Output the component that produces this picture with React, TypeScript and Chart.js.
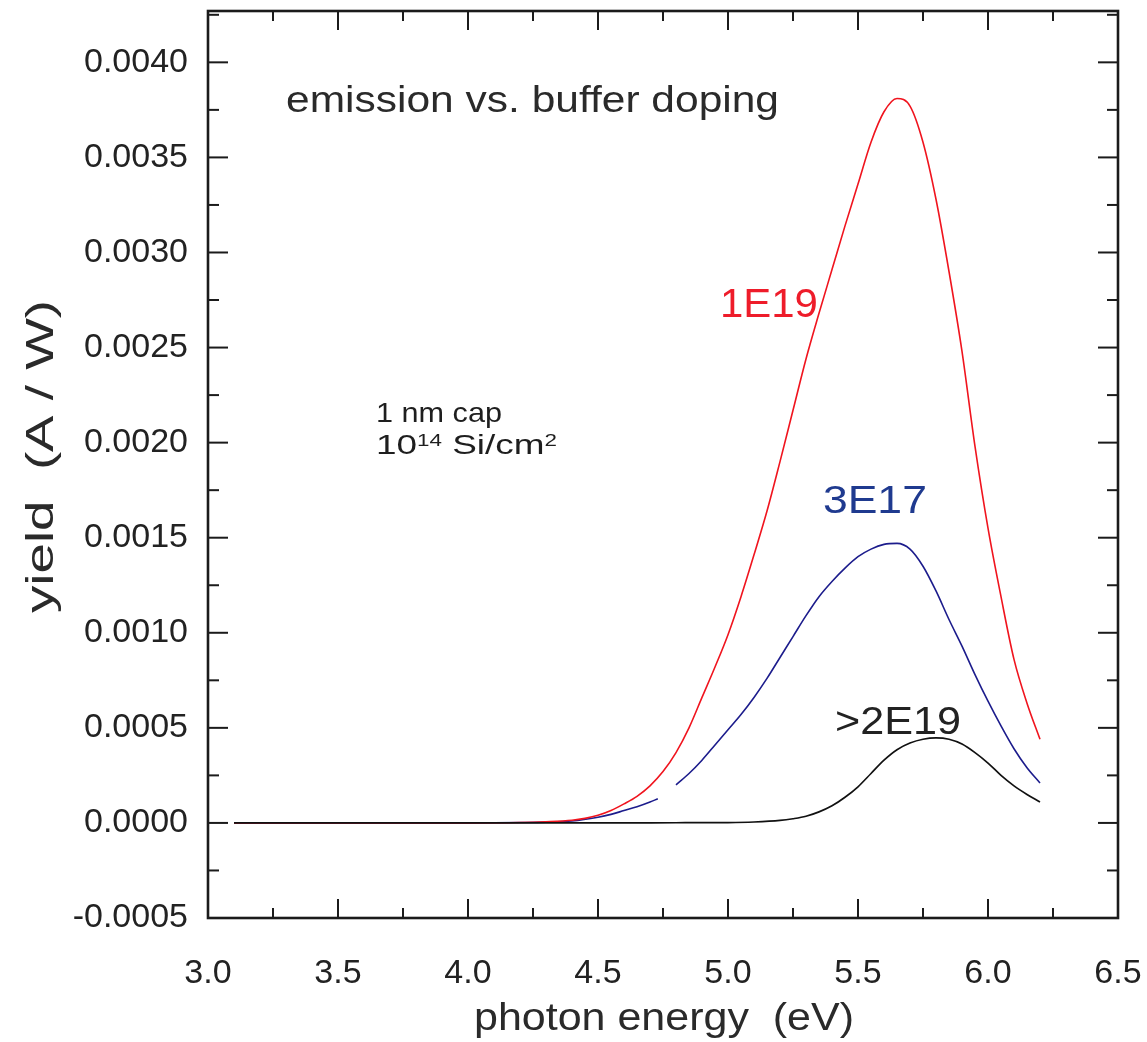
import React, { useEffect, useRef } from "react";
import { Chart, registerables } from "chart.js";

Chart.register(...registerables);

// Axis ranges and tick values
const X_MIN = 3.0;
const X_MAX = 6.5;
const Y_MIN = -0.0005;
const Y_MAX = 0.00427;
const X_TICKS = [3.0, 3.5, 4.0, 4.5, 5.0, 5.5, 6.0, 6.5];
const Y_TICKS = [-0.0005, 0.0, 0.0005, 0.001, 0.0015, 0.002, 0.0025, 0.003, 0.0035, 0.004];
const X_TICK_LABELS = ["3.0", "3.5", "4.0", "4.5", "5.0", "5.5", "6.0", "6.5"];
const Y_TICK_LABELS = ["-0.0005", "0.0000", "0.0005", "0.0010", "0.0015", "0.0020", "0.0025", "0.0030", "0.0035", "0.0040"];

// 1E19 buffer doping
const ENERGY_1E19 = [
  3.1, 3.5, 4.0, 4.2, 4.3, 4.4, 4.45, 4.5, 4.55, 4.6, 4.65, 4.7, 4.75, 4.8, 4.85, 4.9, 4.95,
  5.0, 5.05, 5.1, 5.15, 5.2, 5.25, 5.3, 5.35, 5.4, 5.45, 5.5, 5.55, 5.6, 5.65, 5.7, 5.75,
  5.8, 5.85, 5.9, 5.95, 6.0, 6.05, 6.1, 6.15, 6.2,
];
const YIELD_1E19 = [
  0, 0, 0, 0.000002, 0.000006, 0.000014, 0.000024, 0.00004, 0.000065, 0.0001, 0.00014, 0.000195,
  0.00027, 0.00037, 0.0005, 0.00066, 0.00082, 0.00099, 0.00119, 0.00141, 0.00164, 0.0019,
  0.00217, 0.00244, 0.00268, 0.00291, 0.00314, 0.00336, 0.00358, 0.00374, 0.00381, 0.00377,
  0.00358, 0.00328, 0.0029, 0.00248, 0.00198, 0.00155, 0.00119, 0.00086, 0.00063, 0.00044,
];

// 3E17 buffer doping (two scans, with a gap near 4.76 eV)
const ENERGY_3E17 = [
  3.1, 3.5, 4.0, 4.2, 4.3, 4.4, 4.5, 4.55, 4.6, 4.65, 4.7, 4.73, 4.765,
  4.8, 4.85, 4.9, 4.95, 5.0, 5.05, 5.1, 5.15, 5.2, 5.25, 5.3, 5.35, 5.4, 5.45, 5.5, 5.55,
  5.6, 5.65, 5.7, 5.75, 5.8, 5.85, 5.9, 5.95, 6.0, 6.05, 6.1, 6.15, 6.2,
];
const YIELD_3E17 = [
  0, 0, 0, 0.000002, 0.000004, 0.00001, 0.00003, 0.000045, 0.000065, 0.000085, 0.00011, 0.000127, null,
  0.0002, 0.00026, 0.00033, 0.00041, 0.00049, 0.00057, 0.00066, 0.00076, 0.00087, 0.00098,
  0.00109, 0.00119, 0.00127, 0.00134, 0.0014, 0.00144, 0.001465, 0.00147, 0.00144, 0.00135,
  0.00122, 0.00107, 0.00093, 0.00078, 0.00064, 0.00051, 0.00039, 0.00029, 0.00021,
];

// >2E19 buffer doping
const ENERGY_2E19 = [
  3.1, 3.5, 4.0, 4.5, 4.8, 5.0, 5.1, 5.2, 5.25, 5.3, 5.35, 5.4, 5.45, 5.5, 5.55, 5.6, 5.65,
  5.7, 5.75, 5.8, 5.85, 5.9, 5.95, 6.0, 6.05, 6.1, 6.15, 6.2,
];
const YIELD_2E19 = [
  0, 0, 0, 0, 0.000001, 0.000002, 0.000005, 0.000013, 0.000022, 0.000035, 0.000058, 0.00009,
  0.000135, 0.00019, 0.00026, 0.00033, 0.000385, 0.00042, 0.00044, 0.000447, 0.00044, 0.000415,
  0.00037, 0.000315, 0.00025, 0.000195, 0.00015, 0.00011,
];

const FONT = '"Liberation Sans", Arial, Helvetica, sans-serif';

const toPoints = (xs: number[], ys: (number | null)[]) => xs.map((x, i) => ({ x, y: ys[i] }));

// Draws a string stretched horizontally so it spans the given width
function stretchedText(
  ctx: CanvasRenderingContext2D,
  text: string,
  x: number,
  y: number,
  size: number,
  color: string,
  width: number,
  rotate = false
) {
  ctx.save();
  ctx.font = `${size}px ${FONT}`;
  ctx.fillStyle = color;
  ctx.textAlign = "left";
  ctx.textBaseline = "alphabetic";
  ctx.translate(x, y);
  if (rotate) ctx.rotate(-Math.PI / 2);
  const w = ctx.measureText(text).width;
  ctx.scale(width / w, 1);
  ctx.fillText(text, 0, 0);
  ctx.restore();
}

type Seg = { t: string; sup?: boolean };

function richText(
  ctx: CanvasRenderingContext2D,
  segs: Seg[],
  x: number,
  y: number,
  size: number,
  color: string,
  width: number
) {
  const supSize = Math.round(size * 0.62);
  const rise = size * 0.3;
  ctx.save();
  ctx.fillStyle = color;
  ctx.textAlign = "left";
  ctx.textBaseline = "alphabetic";
  let total = 0;
  for (const s of segs) {
    ctx.font = `${s.sup ? supSize : size}px ${FONT}`;
    total += ctx.measureText(s.t).width;
  }
  ctx.translate(x, y);
  ctx.scale(width / total, 1);
  let cx = 0;
  for (const s of segs) {
    ctx.font = `${s.sup ? supSize : size}px ${FONT}`;
    ctx.fillText(s.t, cx, s.sup ? -rise : 0);
    cx += ctx.measureText(s.t).width;
  }
  ctx.restore();
}

const TITLE_TEXT = "emission vs. buffer doping";
const CAP_TEXT = "1 nm cap";
const DOSE_SEGMENTS: Seg[] = [{ t: "10" }, { t: "14", sup: true }, { t: " Si/cm" }, { t: "2", sup: true }];
const X_TITLE = "photon energy  (eV)";
const Y_TITLE = "yield  (A / W)";

const framePlugin = {
  id: "frameAndText",
  afterDraw(chart: any) {
    const { ctx, chartArea: a, scales } = chart;
    const xs = scales.x;
    const ys = scales.y;
    ctx.save();
    ctx.strokeStyle = "#1b1b1b";
    ctx.lineCap = "butt";

    const seg = (x1: number, y1: number, x2: number, y2: number) => {
      ctx.beginPath();
      ctx.moveTo(x1, y1);
      ctx.lineTo(x2, y2);
      ctx.stroke();
    };

    const xMinor = X_TICKS.slice(0, -1).map((v, i) => (v + X_TICKS[i + 1]) / 2);
    const yMinor = Y_TICKS.map((v) => v + 0.00025).filter((v) => v < Y_MAX);

    ctx.lineWidth = 2;
    for (const v of X_TICKS) {
      const p = xs.getPixelForValue(v);
      seg(p, a.bottom, p, a.bottom - 19);
      seg(p, a.top, p, a.top + 19);
    }
    for (const v of xMinor) {
      const p = xs.getPixelForValue(v);
      seg(p, a.bottom, p, a.bottom - 10);
      seg(p, a.top, p, a.top + 10);
    }
    for (const v of Y_TICKS) {
      const p = ys.getPixelForValue(v);
      seg(a.left, p, a.left + 20, p);
      seg(a.right, p, a.right - 20, p);
    }
    for (const v of yMinor) {
      const p = ys.getPixelForValue(v);
      seg(a.left, p, a.left + 11, p);
      seg(a.right, p, a.right - 11, p);
    }

    ctx.lineWidth = 2.6;
    ctx.strokeRect(a.left, a.top, a.right - a.left, a.bottom - a.top);
    ctx.restore();

    const X = (v: number) => xs.getPixelForValue(v);
    const Y = (v: number) => ys.getPixelForValue(v);

    stretchedText(ctx, TITLE_TEXT, X(3.3), Y(0.00374), 37, "#2a2a2a", 493);
    stretchedText(ctx, CAP_TEXT, X(3.646), Y(0.00211), 28, "#1e1e1e", 126);
    richText(ctx, DOSE_SEGMENTS, X(3.646), Y(0.00194), 28, "#1e1e1e", 181);
    stretchedText(ctx, "1E19", X(4.969), Y(0.002662), 40, "#ee1c2a", 98);
    stretchedText(ctx, "3E17", X(5.365), Y(0.00163), 39, "#1f3a8f", 104);
    stretchedText(ctx, ">2E19", X(5.4115), Y(0.00047), 38, "#222222", 126);

    // axis titles
    stretchedText(ctx, X_TITLE, 474, 1030, 38, "#2a2a2a", 380);
    stretchedText(ctx, Y_TITLE, 53, 613, 39, "#2a2a2a", 313, true);
  },
};

const zeroPadding = (scale: any) => {
  scale.paddingLeft = 0;
  scale.paddingRight = 0;
  scale.paddingTop = 0;
  scale.paddingBottom = 0;
};

export default function App() {
  const canvasRef = useRef<HTMLCanvasElement | null>(null);

  useEffect(() => {
    const canvas = canvasRef.current;
    if (!canvas) return;

    const chart = new Chart(canvas, {
      type: "line",
      data: {
        datasets: [
          {
            label: ">2E19",
            data: toPoints(ENERGY_2E19, YIELD_2E19),
            borderColor: "#111111",
            borderWidth: 1.7,
            pointRadius: 0,
            cubicInterpolationMode: "monotone",
            fill: false,
          },
          {
            label: "1E19",
            data: toPoints(ENERGY_1E19, YIELD_1E19),
            borderColor: "#f0141e",
            borderWidth: 1.6,
            pointRadius: 0,
            cubicInterpolationMode: "monotone",
            fill: false,
          },
          {
            label: "3E17",
            data: toPoints(ENERGY_3E17, YIELD_3E17),
            borderColor: "#1c1c8c",
            borderWidth: 1.6,
            pointRadius: 0,
            cubicInterpolationMode: "monotone",
            spanGaps: false,
            fill: false,
          },
        ],
      },
      options: {
        responsive: false,
        animation: false,
        layout: { padding: { top: 11, right: 29, left: 0, bottom: 0 } },
        plugins: {
          legend: { display: false },
          tooltip: { enabled: false },
          title: { display: false },
        },
        scales: {
          x: {
            type: "linear",
            min: X_MIN,
            max: X_MAX,
            afterBuildTicks: (scale: any) => {
              scale.ticks = X_TICKS.map((value) => ({ value }));
            },
            afterFit: (scale: any) => {
              scale.height = 124;
              zeroPadding(scale);
            },
            grid: { display: false, drawTicks: false },
            border: { display: false },
            ticks: {
              padding: 35,
              maxRotation: 0,
              autoSkip: false,
              color: "#222222",
              font: { family: FONT, size: 34 },
              callback: (value: any) => {
                const i = X_TICKS.findIndex((t) => Math.abs(t - value) < 1e-9);
                return i >= 0 ? X_TICK_LABELS[i] : "";
              },
            },
          },
          y: {
            type: "linear",
            min: Y_MIN,
            max: Y_MAX,
            afterBuildTicks: (scale: any) => {
              scale.ticks = Y_TICKS.map((value) => ({ value }));
            },
            afterFit: (scale: any) => {
              scale.width = 208;
              zeroPadding(scale);
            },
            grid: { display: false, drawTicks: false },
            border: { display: false },
            ticks: {
              padding: 20,
              autoSkip: false,
              color: "#222222",
              font: { family: FONT, size: 34 },
              callback: (value: any) => {
                const i = Y_TICKS.findIndex((t) => Math.abs(t - value) < 1e-12);
                return i >= 0 ? Y_TICK_LABELS[i] : "";
              },
            },
          },
        },
      },
      plugins: [framePlugin],
    });

    return () => chart.destroy();
  }, []);

  return (
    <div style={{ position: "fixed", left: 0, top: 0, width: 1147, height: 1042, background: "#ffffff" }}>
      <canvas ref={canvasRef} width={1147} height={1042} style={{ display: "block" }} />
    </div>
  );
}
